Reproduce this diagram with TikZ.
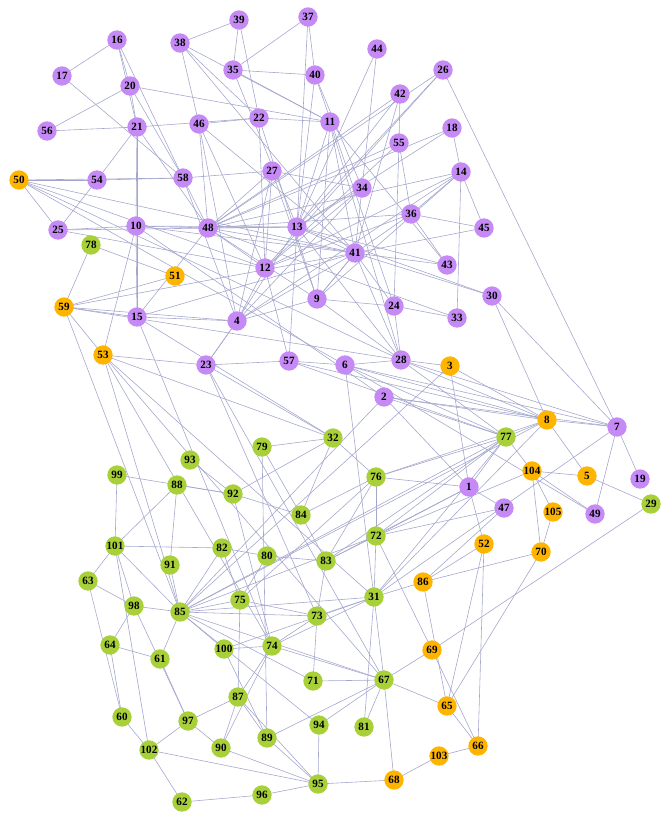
\documentclass[tikz,border=0pt]{standalone}
\usepackage{fontspec}
\setmainfont{Liberation Serif}
\definecolor{pur}{HTML}{C58AF5}
\definecolor{org}{HTML}{FFB400}
\definecolor{grn}{HTML}{A8D038}
\definecolor{edg}{HTML}{A4A6CC}
\begin{document}
\begin{tikzpicture}[x=0.03cm,y=-0.03cm,
 vtx/.style={circle,inner sep=0pt,minimum size=0.58cm,font=\fontsize{9.5}{9.5}\selectfont\bfseries},
 pn/.style={vtx,fill=pur},on/.style={vtx,fill=org},gn/.style={vtx,fill=grn},
 ed/.style={draw=edg,line width=0.5pt}]
\useasboundingbox (0,0) rectangle (669,824);
\def\PL{16/117/40,39/239/20,37/308/17,38/180/43,17/62/76,35/233/70,40/315/75,44/377/49,26/443/70,20/130/86,42/400/94,56/47/131,21/137/127,46/199/124,22/259/118,11/330/122,18/452/128,55/399/143,14/461/172,54/97/180,58/183/178,27/272/171,34/362/188,36/411/214,45/484/228,25/58/230,10/136/226,48/208/228,13/297/227,41/355/253,43/447/265,12/265/268,30/492/296,15/137/317,4/237/321,9/317/299,24/394/306,33/457/318,57/289/361,6/345/365,28/401/360,23/206/365,2/384/397,7/617/427,19/640/479,49/595/514,1/469/487,47/504/508}
\def\OL{50/19/180,51/175/276,59/64/307,53/103/355,3/450/366,8/547/420,104/532/471,5/587/476,105/553/512,52/484/544,70/541/552,86/423/582,69/432/650,65/447/706,66/478/746,103/439/756,68/394/780}
\def\GL{78/91/245,77/506/437,32/333/438,79/262/447,93/190/460,99/117/475,76/376/477,92/233/494,88/177/485,84/301/515,29/651/504,101/115/546,82/222/548,80/267/556,91/170/565,83/326/561,72/376/536,63/88/581,98/134/606,85/180/612,75/240/600,73/317/616,31/374/597,64/110/645,61/160/659,100/224/649,74/272/646,71/313/681,67/384/680,87/238/697,60/122/717,97/188/721,94/319/725,81/364/727,89/267/738,90/221/748,102/149/750,95/318/784,96/262/795,62/182/802}
\foreach \n/\x/\y in \PL {\coordinate (n\n) at (\x,\y);}
\foreach \n/\x/\y in \OL {\coordinate (n\n) at (\x,\y);}
\foreach \n/\x/\y in \GL {\coordinate (n\n) at (\x,\y);}
\foreach \a/\b in {16/17,16/58,16/21,16/20,39/38,39/35,39/22,37/35,37/40,37/13,38/11,38/22,38/46,35/11,35/40,35/13,40/34,40/13,40/24,20/56,20/11,20/21,20/58,17/58,56/21,21/22,21/10,21/15,21/54,21/48,46/22,46/48,46/4,46/12,46/41,22/12,22/11,22/9,44/34,44/13,42/55,42/41,42/48,42/13,26/48,26/7,26/13,26/12,18/13,18/14,18/48,55/24,55/36,55/48,55/12,14/45,14/36,14/33,14/48,14/4,14/9,54/25,54/58,50/54,50/25,50/58,50/6,50/28,50/12,50/41,58/27,58/48,58/4,27/34,27/12,27/4,27/48,27/9,34/13,34/41,34/12,34/4,36/41,36/45,36/43,36/48,36/12,25/10,25/12,25/13,10/48,10/41,10/2,10/15,10/53,10/13,48/13,48/9,48/12,48/41,15/48,13/41,13/11,13/4,13/57,13/28,43/13,45/41,33/48,30/13,11/9,11/41,11/43,11/28,41/43,41/24,41/9,41/28,41/4,38/41,12/4,12/57,12/14,4/9,4/15,4/23,9/24,9/28,9/41,24/33,24/28,30/7,30/41,30/8,15/59,15/32,15/41,15/74,59/78,59/4,59/53,59/28,59/41,59/85,78/51,51/59,53/23,53/74,53/67,53/32,53/31,53/85,23/57,23/4,23/32,23/67,23/73,57/6,57/77,57/8,6/28,6/8,6/7,6/31,6/77,6/49,28/3,28/77,28/8,28/7,3/8,2/7,2/1,2/77,2/8,2/85,3/1,8/7,7/19,7/49,7/31,77/1,77/8,77/104,77/72,77/83,77/85,77/76,77/31,1/47,1/52,1/76,1/72,1/83,104/5,104/49,104/105,104/72,5/8,5/29,105/70,47/86,47/72,52/65,52/66,8/85,32/76,32/79,32/84,32/92,79/84,79/89,93/92,99/92,99/101,88/92,88/101,88/91,92/74,92/84,76/72,76/84,76/83,76/75,8/76,84/83,101/63,101/85,101/98,101/102,101/82,63/98,63/60,98/85,98/64,98/97,91/85,82/75,82/80,82/85,80/83,80/75,83/73,83/72,72/85,72/69,72/31,31/86,31/67,31/85,31/74,31/100,86/70,73/85,73/31,73/74,73/71,75/73,75/85,75/87,74/67,74/87,74/90,85/100,85/67,85/71,85/94,100/74,100/89,61/85,61/97,64/61,60/64,102/60,102/97,102/95,62/102,96/62,95/96,68/95,103/68,66/103,65/66,67/65,71/67,67/81,94/67,89/95,90/95,87/89,97/87,87/90,87/95,90/97,94/95,89/67,67/68,67/69,69/66,86/65,29/69,70/65,8/31,3/85,52/86,81/31,70/104}
  {\draw[ed] (n\a) -- (n\b);}
\foreach \n/\x/\y in \PL {\node[pn] (v\n) at (\x,\y) {\n};}
\foreach \n/\x/\y in \OL {\node[on] (v\n) at (\x,\y) {\n};}
\foreach \n/\x/\y in \GL {\node[gn] (v\n) at (\x,\y) {\n};}
\end{tikzpicture}
\end{document}
